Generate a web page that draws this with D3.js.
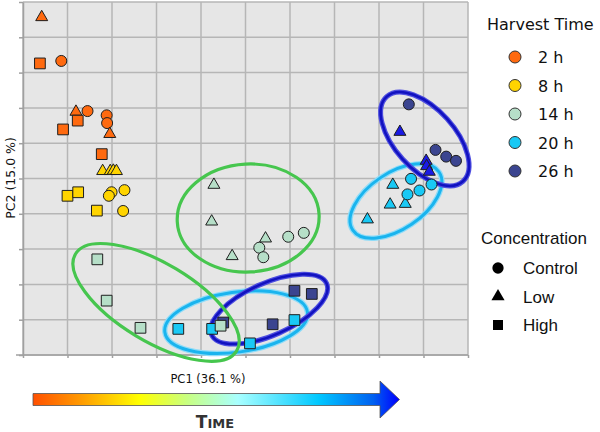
<!DOCTYPE html>
<html>
<head>
<meta charset="utf-8">
<script src="https://cdn.jsdelivr.net/npm/d3@7"></script>
<style>
  body { margin: 0; background: #fff; }
  svg { display: block; }
</style>
</head>
<body>
<div id="chart"></div>
<script>
;(function () {
  // legend entries
  const times = ["2 h", "8 h", "14 h", "20 h", "26 h"]
  const timeColors = ["#ff6a10", "#ffd400", "#b6dfc8", "#19c9f5", "#3b4590"]
  const lowColor26 = "#1a1ae6" // 26 h low-concentration triangles are brighter blue
  const concentrations = ["Control", "Low", "High"]

  // samples (PC scores, grid units)
  const ptTime = [
    "2 h","2 h","2 h","2 h","2 h","2 h","2 h","2 h","2 h","2 h","2 h",
    "8 h","8 h","8 h","8 h","8 h","8 h","8 h","8 h","8 h","8 h","8 h",
    "14 h","14 h","14 h","14 h","14 h","14 h","14 h","14 h","14 h","14 h","14 h","14 h",
    "20 h","20 h","20 h","20 h","20 h","20 h","20 h","20 h","20 h","20 h","20 h","20 h",
    "26 h","26 h","26 h","26 h","26 h","26 h","26 h","26 h","26 h","26 h","26 h","26 h"
  ]
  const ptConc = [
    "Low","High","Control","Low","Control","High","High","Control","Control","Low","High",
    "Low","Low","Low","Low","High","High","High","Control","Control","Control","Control",
    "Low","Low","Low","Low","Control","Control","Control","Control","High","High","High","High",
    "High","High","High","High","Low","Low","Low","Low","Control","Control","Control","Control",
    "Control","Control","Control","Control","Low","Low","Low","Low","High","High","High","High"
  ]
  const pc1 = [
    0.42, 0.38, 0.86, 1.19, 1.45, 1.23, 0.90, 1.88, 1.89, 1.95, 1.77,
    1.79, 1.96, 2.03, 2.10, 1.00, 1.24, 1.66, 1.99, 1.93, 2.28, 2.25,
    4.29, 4.24, 5.45, 4.70, 5.31, 5.40, 5.96, 6.31, 1.67, 1.88, 2.64, 4.44,
    3.49, 4.25, 5.10, 6.10, 7.74, 8.25, 8.59, 8.31, 8.72, 8.64, 8.91, 9.18,
    8.67, 9.27, 9.51, 9.73, 8.47, 9.06, 9.07, 9.13, 6.10, 6.49, 5.61, 4.50
  ]
  const pc2 = [
    9.57, 8.26, 8.33, 6.89, 6.91, 6.64, 6.39, 6.79, 6.57, 6.26, 5.69,
    5.21, 5.21, 5.22, 5.21, 4.51, 4.61, 4.09, 4.61, 4.51, 4.67, 4.08,
    4.82, 3.78, 3.30, 2.80, 3.04, 2.77, 3.35, 3.46, 2.71, 1.54, 0.77, 0.83,
    0.74, 0.74, 0.33, 0.99, 3.84, 4.26, 4.28, 4.82, 4.99, 4.55, 4.66, 4.83,
    7.10, 5.81, 5.62, 5.50, 6.32, 5.50, 5.35, 5.19, 1.82, 1.73, 0.87, 0.92
  ]

  // cluster ellipses: centre in grid units, radii in px, rotation in degrees
  const ellTime = ["20 h", "26 h", "14 h", "14 h", "20 h", "26 h"]
  const ellCx = [4.79, 5.53, 2.99, 5.06, 8.38, 9.03]
  const ellCy = [0.93, 1.30, 1.49, 3.88, 4.36, 6.12]
  const ellRx = [72, 63, 94, 71, 52, 57]
  const ellRy = [30, 26, 39, 54, 28, 30]
  const ellRot = [-8, -24, 31, -3, -34, 48]

  const width = 600
  const height = 432
  const plot = { left: 23, right: 468, top: 2, bottom: 355 }

  const svg = d3.select("#chart").append("svg").attr("width", width).attr("height", height)

  const x = d3.scaleLinear().domain([0, 10]).range([plot.left, plot.right])
  const y = d3.scaleLinear().domain([0, 10]).range([plot.bottom, plot.top])
  const color = d3.scaleOrdinal().domain(times).range(timeColors)
  const shape = d3.scaleOrdinal().domain(concentrations)
    .range([d3.symbolCircle, d3.symbolTriangle, d3.symbolSquare])
  const shapeSize = d3.scaleOrdinal().domain(concentrations).range([95, 62, 115])

  // plot background + grid
  svg.append("rect")
    .attr("x", plot.left).attr("y", plot.top)
    .attr("width", plot.right - plot.left).attr("height", plot.bottom - plot.top)
    .attr("fill", "#e6e6e6")

  const grid = svg.append("g").attr("stroke", "#b6b6b6").attr("stroke-width", 1.5)
  grid.selectAll(".gx").data(x.ticks(10)).join("line")
    .attr("x1", d => x(d)).attr("x2", d => x(d))
    .attr("y1", plot.top).attr("y2", plot.bottom)
  grid.selectAll(".gy").data(y.ticks(10)).join("line")
    .attr("y1", d => y(d)).attr("y2", d => y(d))
    .attr("x1", plot.left).attr("x2", plot.right)

  // axes: ticks only, no labels
  const xAxis = svg.append("g")
    .attr("transform", `translate(0,${plot.bottom})`)
    .call(d3.axisBottom(x).ticks(10).tickSize(3).tickSizeOuter(0).tickFormat(""))
  const yAxis = svg.append("g")
    .attr("transform", `translate(${plot.left},0)`)
    .call(d3.axisLeft(y).ticks(10).tickSize(4).tickSizeOuter(0).tickFormat(""))
  ;[xAxis, yAxis].forEach(a => {
    a.selectAll("path, line").attr("stroke", "#a0a0a0").attr("stroke-width", 1.5)
  })
  xAxis.select(".domain").attr("d", `M${plot.left - 7},0H${plot.right}`)

  // ellipses
  const ellStyle = {
    "14 h": [{ c: "#46c64e", w: 3.2 }],
    "20 h": [{ c: "#8fdcf8", w: 5.5 }, { c: "#1ab4ee", w: 3 }],
    "26 h": [{ c: "#4e4ee0", w: 5 }, { c: "#1212c0", w: 2.6 }]
  }
  const ells = svg.append("g")
  ellTime.forEach((t, i) => {
    ellStyle[t].forEach(s => {
      ells.append("ellipse")
        .attr("transform", `translate(${x(ellCx[i])},${y(ellCy[i])}) rotate(${ellRot[i]})`)
        .attr("rx", ellRx[i]).attr("ry", ellRy[i])
        .attr("fill", "none").attr("stroke", s.c).attr("stroke-width", s.w)
    })
  })

  // points (late harvest drawn first so earlier ones sit on top)
  const points = pc1.map((v, i) => ({ pc1: v, pc2: pc2[i], time: ptTime[i], conc: ptConc[i] }))
  const order = times.slice().reverse()
  points.sort((a, b) => order.indexOf(a.time) - order.indexOf(b.time))

  svg.append("g").selectAll("path").data(points).join("path")
    .attr("transform", d => `translate(${x(d.pc1)},${y(d.pc2)})`)
    .attr("d", d => d3.symbol(shape(d.conc), shapeSize(d.conc))())
    .attr("fill", d => (d.time === "26 h" && d.conc === "Low") ? lowColor26 : color(d.time))
    .attr("stroke", "#1e1e1e").attr("stroke-width", 1)

  // axis titles
  svg.append("text")
    .attr("x", 208).attr("y", 383)
    .attr("text-anchor", "middle")
    .attr("font-family", "DejaVu Sans").attr("font-size", 11.5).attr("fill", "#111")
    .text("PC1 (36.1 %)")
  svg.append("text")
    .attr("transform", "translate(15,178) rotate(-90)")
    .attr("text-anchor", "middle")
    .attr("font-family", "DejaVu Sans").attr("font-size", 12.5).attr("fill", "#111")
    .text("PC2 (15.0 %)")

  // time arrow
  const defs = svg.append("defs")
  const grad = defs.append("linearGradient").attr("id", "timegrad")
    .attr("gradientUnits", "userSpaceOnUse")
    .attr("x1", 33).attr("x2", 399).attr("y1", 0).attr("y2", 0)
  const gradStops = [
    [0, "#ff5000"], [0.13, "#ff9a00"], [0.29, "#ffff00"], [0.42, "#c8ff80"],
    [0.56, "#a8ffff"], [0.78, "#00c8ff"], [0.93, "#0060f0"], [1, "#0000ff"]
  ]
  grad.selectAll("stop").data(gradStops).join("stop")
    .attr("offset", d => d[0]).attr("stop-color", d => d[1])
  svg.append("path")
    .attr("d", "M33,393.5H380V381L399.5,399.5L380,418V405.5H33Z")
    .attr("fill", "url(#timegrad)")
    .attr("stroke", "#555").attr("stroke-width", 0.8)

  const timeLabel = svg.append("text")
    .attr("x", 215).attr("y", 428)
    .attr("text-anchor", "middle")
    .attr("font-family", "DejaVu Sans").attr("font-weight", "bold").attr("fill", "#333")
  timeLabel.append("tspan").attr("font-size", 17).text("T")
  timeLabel.append("tspan").attr("font-size", 13).text("IME")

  // legend: harvest time
  svg.append("text")
    .attr("x", 487).attr("y", 30)
    .attr("font-family", "DejaVu Sans").attr("font-size", 16).attr("fill", "#111")
    .text("Harvest Time")
  const legT = svg.append("g").selectAll("g").data(times).join("g")
    .attr("transform", (d, i) => `translate(515,${57 + i * 28.5})`)
  legT.append("circle").attr("r", 6).attr("fill", d => color(d))
    .attr("stroke", "#333").attr("stroke-width", 1)
  legT.append("text").attr("x", 23).attr("y", 6)
    .attr("font-family", "DejaVu Sans").attr("font-size", 16).attr("fill", "#111")
    .text(d => d)

  // legend: concentration
  svg.append("text")
    .attr("x", 481).attr("y", 244)
    .attr("font-family", "Liberation Sans").attr("font-size", 17).attr("fill", "#111")
    .text("Concentration")
  const legC = svg.append("g").selectAll("g").data(concentrations).join("g")
    .attr("transform", (d, i) => `translate(498,${268 + i * 28.5})`)
  legC.append("path")
    .attr("d", d => d3.symbol(shape(d), d === "Low" ? 75 : 100)())
    .attr("fill", "#000")
  legC.append("text").attr("x", 25).attr("y", 6)
    .attr("font-family", "Liberation Sans").attr("font-size", 17).attr("fill", "#111")
    .text(d => d)
})()
</script>
</body>
</html>
